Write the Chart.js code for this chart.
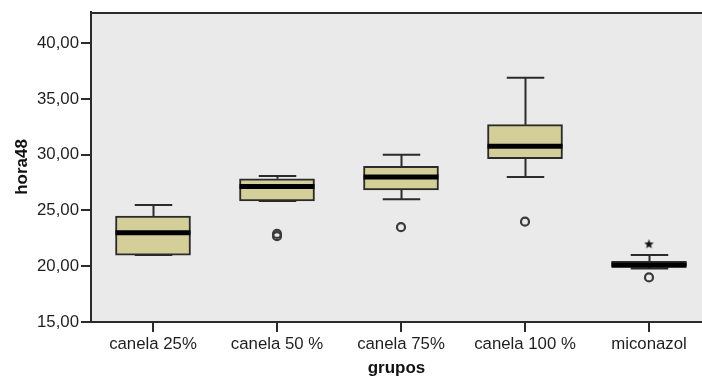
<!DOCTYPE html>
<html>
<head>
  <title>hora48 por grupos</title>
  <script src="https://cdn.jsdelivr.net/npm/chart.js"></script>
  <style>
    html, body {
      margin: 0;
      padding: 0;
      background: #ffffff;
      overflow: hidden;
    }

    #caja {
      width: 702px;
      height: 381px;
    }
  </style>
</head>
<body>

  <div id="caja"><canvas id="boxplot"></canvas></div>

  <script>

    var grupos = ['canela 25%', 'canela 50 %', 'canela 75%', 'canela 100 %', 'miconazol'];
    var q1 = [21.0, 25.85, 26.85, 29.65, 20.0];      // cuartil inferior
    var mediana = [23.0, 27.15, 28.0, 30.75, 20.1];
    var q3 = [24.5, 27.85, 28.95, 32.7, 20.45];      // cuartil superior
    var bigoteMin = [21.0, 25.85, 26.0, 28.0, 19.8];
    var bigoteMax = [25.5, 28.1, 30.0, 36.9, 21.0];
    var atipicos = [[], [22.7, 22.9], [23.5], [24.0], [19.0]];   // circulos
    var extremos = [[], [], [], [], [22.0]];                     // estrellas
    var yTicks = [15, 20, 25, 30, 35, 40];

    var fuente = "'Liberation Sans', Arial, sans-serif";
    var oscuro = '#2b2b2b';

    // estrella rellena para los valores extremos
    var estrella = document.createElement('canvas');
    estrella.width = 11;
    estrella.height = 11;
    (function () {
      var c = estrella.getContext('2d');
      c.fillStyle = '#111111';
      c.beginPath();
      for (var k = 0; k < 10; k++) {
        var r = k % 2 === 0 ? 5 : 2.1;
        var a = -Math.PI / 2 + k * Math.PI / 5;
        var px = 5.5 + r * Math.cos(a), py = 5.8 + r * Math.sin(a);
        if (k === 0) c.moveTo(px, py); else c.lineTo(px, py);
      }
      c.closePath();
      c.fill();
    })();

    function puntos(lista) {
      var out = [];
      lista.forEach(function (vals, i) {
        vals.forEach(function (v) { out.push({ x: i + 1, y: v }); });
      });
      return out;
    }

    var fondoPlot = {
      id: 'fondoPlot',
      beforeDraw: function (chart) {
        var a = chart.chartArea, ctx = chart.ctx;
        ctx.save();
        ctx.fillStyle = '#eaeaea';
        ctx.fillRect(a.left, a.top, a.right - a.left, a.bottom - a.top);
        ctx.restore();
      },
      afterDraw: function (chart) {
        var a = chart.chartArea, ctx = chart.ctx;
        ctx.save();
        ctx.strokeStyle = oscuro;
        ctx.lineWidth = 2;
        ctx.beginPath();
        ctx.moveTo(a.left, a.top + 1);
        ctx.lineTo(a.right, a.top + 1);
        ctx.stroke();
        ctx.restore();
      }
    };

    // bigotes y mediana sobre las cajas (dataset 0)
    var bigotes = {
      id: 'bigotes',
      beforeDatasetsDraw: function (chart) {
        var ctx = chart.ctx, y = chart.scales.y;
        var meta = chart.getDatasetMeta(0);
        ctx.save();
        ctx.strokeStyle = oscuro;
        ctx.lineWidth = 2;
        meta.data.forEach(function (bar, i) {
          var x = Math.round(bar.x) + 0.5;
          var cap = bar.width / 4;
          var yTop = y.getPixelForValue(bigoteMax[i]);
          var yQ3 = y.getPixelForValue(q3[i]);
          var yBot = y.getPixelForValue(bigoteMin[i]);
          var yQ1 = y.getPixelForValue(q1[i]);
          ctx.beginPath();
          ctx.moveTo(x, yQ3); ctx.lineTo(x, yTop);
          ctx.moveTo(x - cap, yTop); ctx.lineTo(x + cap, yTop);
          ctx.moveTo(x, yQ1); ctx.lineTo(x, yBot);
          ctx.moveTo(x - cap, yBot); ctx.lineTo(x + cap, yBot);
          ctx.stroke();
        });
        ctx.restore();
      },
      afterDatasetDraw: function (chart, args) {
        if (args.index !== 0) return;
        var ctx = chart.ctx, y = chart.scales.y;
        var meta = chart.getDatasetMeta(0);
        ctx.save();
        ctx.strokeStyle = '#000000';
        ctx.lineWidth = 5;
        meta.data.forEach(function (bar, i) {
          var ym = y.getPixelForValue(mediana[i]);
          ctx.beginPath();
          ctx.moveTo(bar.x - bar.width / 2, ym);
          ctx.lineTo(bar.x + bar.width / 2, ym);
          ctx.stroke();
        });
        ctx.restore();
      }
    };

    var ctx = document.getElementById('boxplot').getContext('2d');
    var myChart = new Chart(ctx, {
      type: 'bar',
      data: {
        datasets: [{
          label: 'caja',
          data: grupos.map(function (g, i) { return { x: i + 1, y: [q1[i], q3[i]] }; }),
          backgroundColor: '#d4cf98',
          borderColor: oscuro,
          borderWidth: 2,
          borderSkipped: false,
          barThickness: 75
        }, {
          type: 'scatter',
          label: 'atipicos',
          data: puntos(atipicos),
          pointStyle: 'circle',
          pointRadius: 4,
          borderWidth: 2.2,
          borderColor: '#3a3a3a',
          backgroundColor: 'rgba(0,0,0,0)'
        }, {
          type: 'scatter',
          label: 'extremos',
          data: puntos(extremos),
          pointStyle: estrella
        }]
      },
      options: {
        responsive: true,
        maintainAspectRatio: false,
        animation: false,
        layout: { autoPadding: false, padding: { top: 12, right: 0, bottom: 0, left: 0 } },
        plugins: {
          legend: { display: false },
          tooltip: { enabled: false }
        },
        scales: {
          x: {
            type: 'linear',
            offset: false,
            min: 0.5,
            max: 0.5 + 611 / 124,
            afterBuildTicks: function (s) {
              s.ticks = grupos.map(function (g, i) { return { value: i + 1 }; });
            },
            afterFit: function (s) {
              s.height = 59;
              s.paddingLeft = 0;
              s.paddingRight = 0;
            },
            border: { display: true, color: oscuro, width: 2 },
            grid: { display: true, drawOnChartArea: false, offset: false, tickLength: 10, color: oscuro, lineWidth: 2 },
            ticks: {
              padding: 2,
              color: '#1e1e1e',
              font: { family: fuente, size: 16.8 },
              callback: function (v) { return grupos[v - 1]; }
            },
            title: {
              display: true,
              text: 'grupos',
              color: '#111111',
              padding: { top: 0, bottom: 2 },
              font: { family: fuente, size: 17, weight: 'bold' }
            }
          },
          y: {
            min: 15,
            max: 42.8,
            afterBuildTicks: function (s) {
              s.ticks = yTicks.map(function (v) { return { value: v }; });
            },
            afterFit: function (s) {
              s.width = 91;
              s.paddingTop = 0;
              s.paddingBottom = 0;
            },
            border: { display: true, color: oscuro, width: 2 },
            grid: { display: true, drawOnChartArea: false, tickLength: 10, color: oscuro, lineWidth: 2 },
            ticks: {
              padding: 2,
              color: '#1e1e1e',
              font: { family: fuente, size: 16.8 },
              callback: function (v) { return v.toFixed(2).replace('.', ','); }
            },
            title: {
              display: true,
              text: 'hora48',
              color: '#111111',
              padding: { top: 12, bottom: 0 },
              font: { family: fuente, size: 17, weight: 'bold' }
            }
          }
        }
      },
      plugins: [fondoPlot, bigotes]
    });

  </script>
</body>
</html>
